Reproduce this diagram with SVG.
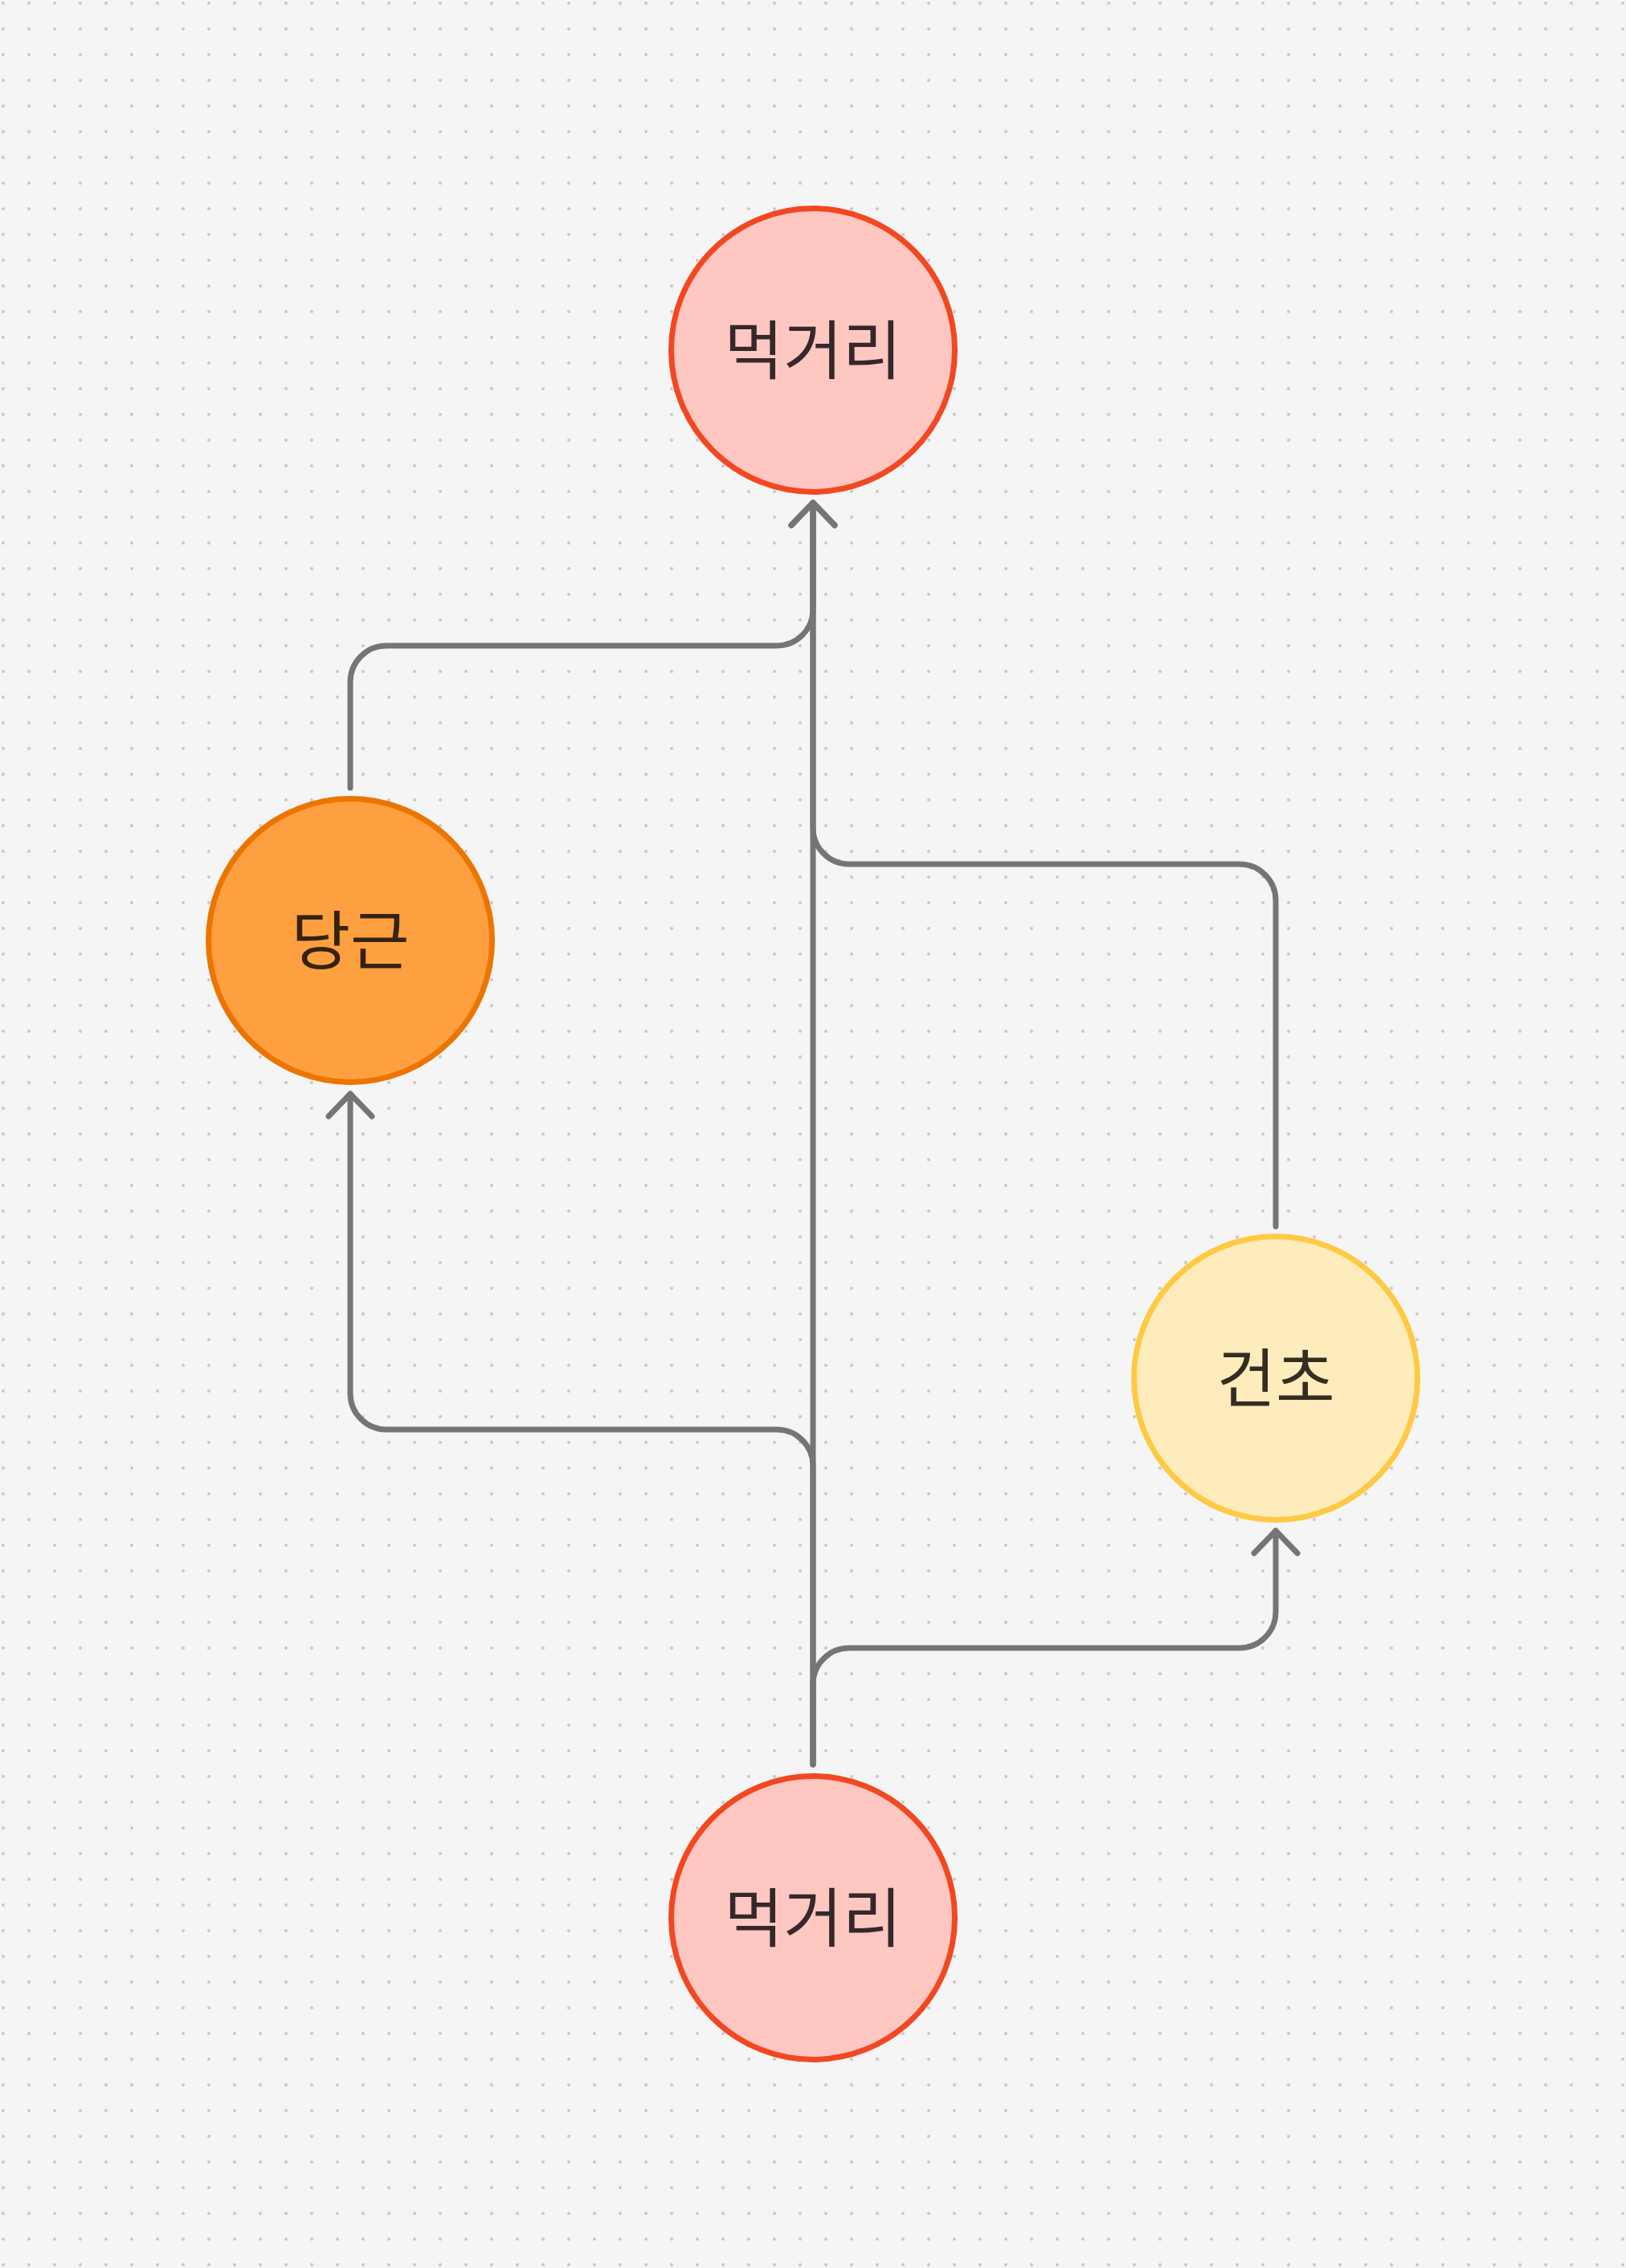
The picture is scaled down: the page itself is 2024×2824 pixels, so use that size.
<svg xmlns="http://www.w3.org/2000/svg" width="2024" height="2824" viewBox="0 0 2024 2824">
<defs>
<pattern id="dots" x="0" y="0" width="32" height="32" patternUnits="userSpaceOnUse">
<circle cx="4" cy="4" r="2" fill="#c8c8c8"/>
</pattern>
<marker id="arr" markerUnits="userSpaceOnUse" viewBox="-40 -40 80 80" markerWidth="80" markerHeight="80" refX="0" refY="0" orient="auto" overflow="visible">
<path d="M-28,-27 L0,0 L-28,27" fill="none" stroke="#757575" stroke-width="7" stroke-linecap="round" stroke-linejoin="round"/>
</marker>
</defs>
<style>
.edge{fill:none;stroke:#757575;stroke-width:7;stroke-linecap:round;stroke-linejoin:round}
.lbl{font-family:"Noto Sans CJK KR","Noto Sans",sans-serif;font-size:80px;text-anchor:middle}
.red circle{fill:#ffc7c2;stroke:#f24822;stroke-width:7}
.red text{fill:#35282a}
.orange circle{fill:#ffa040;stroke:#eb7500;stroke-width:7}
.orange text{fill:#33230f}
.yellow circle{fill:#ffecbd;stroke:#ffc943;stroke-width:7}
.yellow text{fill:#332d22}
</style>
<rect width="2024" height="2824" fill="#f5f5f5"/>
<rect width="2024" height="2824" fill="url(#dots)"/>
<g id="connectors">
<path class="edge" marker-end="url(#arr)" d="M1012 2197 V1825 A45 45 0 0 0 967 1780 H481 A45 45 0 0 1 436 1735 V1362"/>
<path class="edge" marker-end="url(#arr)" d="M1012 2197 V2097 A45 45 0 0 1 1057 2052 H1543 A45 45 0 0 0 1588 2007 V1906"/>
<path class="edge" marker-end="url(#arr)" d="M1012 2197 V626"/>
<path class="edge" marker-end="url(#arr)" d="M436 981 V849 A45 45 0 0 1 481 804 H967 A45 45 0 0 0 1012 759 V626"/>
<path class="edge" marker-end="url(#arr)" d="M1588 1527 V1121 A45 45 0 0 0 1543 1076 H1057 A45 45 0 0 1 1012 1031 V626"/>
</g>
<g id="node-top" class="red">
<circle cx="1012" cy="436" r="176.5"/>
<text class="lbl" x="1012" y="465">먹거리</text>
</g>
<g id="node-carrot" class="orange">
<circle cx="436" cy="1171" r="176.5"/>
<text class="lbl" x="436" y="1200">당근</text>
</g>
<g id="node-hay" class="yellow">
<circle cx="1588" cy="1716" r="176.5"/>
<text class="lbl" x="1588" y="1745">건초</text>
</g>
<g id="node-bottom" class="red">
<circle cx="1012" cy="2388" r="176.5"/>
<text class="lbl" x="1012" y="2417">먹거리</text>
</g>
</svg>
